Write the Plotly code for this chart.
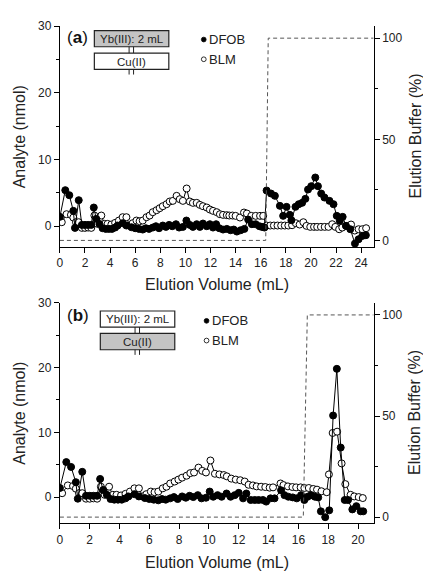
import plotly.graph_objects as go

# ---------------- data ----------------
# Panel (a): DFOB (filled) and BLM (open), analyte in nmol vs elution volume in mL
dfob_a_x = [0.0, 0.43, 0.75, 1.07, 1.2, 1.5, 1.75, 2.0, 2.25, 2.5, 2.7, 2.9, 3.15, 3.4, 3.65, 3.9,
            4.15, 4.4, 4.6, 5.0, 5.3, 5.7, 6.0, 6.3, 6.6, 6.85, 7.1, 7.4, 7.65, 7.9, 8.2, 8.45,
            8.7, 8.95, 9.25, 9.5, 9.8, 10.08, 10.35, 10.6, 10.9, 11.15, 11.4, 11.7, 11.95, 12.2,
            12.45, 12.7, 13.0, 13.3, 13.6, 13.85, 14.1, 14.4, 14.7, 15.0, 15.3, 15.6, 15.9, 16.1,
            16.3, 16.47, 16.82, 17.13, 17.53, 17.79, 18.06, 18.32, 18.45, 18.77, 19.03, 19.3,
            19.56, 19.77, 20.03, 20.35, 20.56, 20.82, 21.08, 21.48, 21.8, 22.06, 22.3, 22.53,
            22.8, 23.14, 23.51, 23.8, 24.1, 24.38]
dfob_a_y = [1.4, 5.4, 4.65, 2.3, -0.25, 3.9, 0.2, 0.2, 0.2, 0.2, 2.8, 1.1, 0.35, -0.3, -0.4, -0.4,
            -0.4, -0.2, 0.1, 0.45, 0.1, -0.15, -0.3, -0.4, -0.5, -0.3, -0.4, -0.2, 0.0, -0.3, 0.1, -0.1,
            0.2, 0.0, 0.3, -0.2, -0.1, 0.85, 0.2, -0.1, 0.3, -0.1, 0.4, 0.0, 0.3, -0.2,
            0.3, -0.3, -0.5, -0.4, -0.6, -0.5, -0.8, -0.6, -0.4, 1.0, 0.3, 0.3, 0.0, -0.1,
            -0.2, 5.35, 4.9, 4.55, 3.05, 1.55, 2.9, 1.7, 0.9, 2.9, 3.3, 3.5,
            4.1, 5.5, 6.0, 7.3, 6.0, 4.9, 4.3, 3.8, 3.3, 1.55, 0.8, 1.4,
            0.05, -0.45, -2.6, -1.95, -1.45, -1.35]

blm_a_x = [0.15, 0.53, 0.88, 1.07, 1.28, 1.5, 1.75, 2.0, 2.25, 2.5, 2.75, 3.0, 3.3, 3.55, 3.8, 4.1,
           4.4, 4.7, 5.0, 5.3, 5.55, 5.8, 6.1, 6.35, 6.6, 6.9, 7.15, 7.4, 7.7, 7.95, 8.2, 8.5,
           8.75, 9.0, 9.3, 9.55, 9.8, 10.1, 10.35, 10.6, 10.9, 11.15, 11.4, 11.7, 11.95, 12.2,
           12.5, 12.75, 13.0, 13.3, 13.5, 13.75, 14.0, 14.35, 14.67, 14.9, 15.25, 15.6, 15.95,
           16.2, 16.47, 16.76, 17.05, 17.34, 17.63, 17.92, 18.2, 18.5, 18.8, 19.1, 19.4, 19.65,
           19.95, 20.25, 20.5, 20.8, 21.1, 21.4, 21.7, 21.95, 22.25, 22.5, 22.8, 23.2, 23.5,
           23.8, 24.1, 24.4]
blm_a_y = [0.6, 1.8, 1.7, 1.3, 0.6, 0.6, -0.25, -0.25, -0.2, -0.25, 1.6, 0.35, 1.6, 0.35, 0.35, 0.25,
           0.5, 0.85, 1.35, 1.35, 0.1, 0.45, 0.85, 0.75, 0.85, 1.35, 1.6, 2.1, 2.4, 2.7, 3.0, 3.3,
           3.7, 3.8, 4.55, 4.05, 3.8, 5.65, 3.7, 3.5, 3.5, 3.2, 3.0, 2.8, 2.5, 2.3,
           2.1, 1.8, 1.7, 1.65, 1.6, 1.6, 1.55, 1.3, 2.05, 1.9, 1.55, 1.55, 1.55,
           1.55, 0.1, 0.1, 0.1, 0.1, 0.1, 0.1, 0.1, 0.15, 0.45, 0.25, 0.6, 0.05,
           -0.1, -0.1, -0.1, -0.1, -0.1, -0.1, 0.3, -0.1, -0.45, -0.2, 0.05, 0.25, -0.65,
           -0.45, -0.45, -0.3]

# Panel (b)
dfob_b_x = [0.0, 0.43, 0.75, 1.07, 1.2, 1.5, 1.75, 2.0, 2.25, 2.5, 2.7, 2.9, 3.15, 3.4, 3.65, 3.9,
            4.15, 4.4, 4.6, 5.0, 5.3, 5.7, 6.0, 6.3, 6.6, 6.85, 7.1, 7.4, 7.65, 7.9, 8.2, 8.45,
            8.7, 8.95, 9.25, 9.5, 9.8, 10.05, 10.29, 10.58, 10.85, 11.18, 11.45, 11.73, 12.0,
            12.29, 12.51, 12.8, 13.07, 13.33, 13.62, 13.84, 14.13, 14.4, 14.84, 15.07, 15.33,
            15.62, 15.89, 16.18, 16.4, 16.62, 16.84, 17.11, 17.33, 17.51, 17.8, 18.07, 18.33,
            18.58, 18.84, 19.11, 19.33, 19.62, 19.89, 20.18, 20.35]
dfob_b_y = [1.4, 5.4, 4.65, 2.3, -0.25, 3.9, 0.2, 0.2, 0.2, 0.2, 2.8, 1.1, 0.35, -0.3, -0.4, -0.4,
            -0.4, -0.2, 0.1, 0.45, 0.1, -0.15, -0.3, -0.4, -0.5, -0.3, -0.4, -0.2, 0.0, -0.3, 0.1, -0.1,
            0.2, 0.0, 0.3, -0.2, -0.1, 0.85, 0.05, 0.3, 0.05, 0.55, 0.05, 0.3, 0.65,
            -0.2, 0.55, -0.45, -0.45, -0.45, -0.45, -0.7, -0.2, -0.2, 1.05, 0.3, 0.05,
            -0.05, -0.2, 0.3, -0.45, 0.05, 0.3, 0.05, -0.05, -2.2, -3.1, -2.05, 12.6,
            19.8, 7.65, -0.45, -0.45, -1.9, -1.4, -2.2, -2.2]

blm_b_x = [0.15, 0.53, 0.88, 1.07, 1.28, 1.5, 1.75, 2.0, 2.25, 2.5, 2.75, 3.0, 3.3, 3.55, 3.8, 4.1,
           4.4, 4.7, 5.0, 5.3, 5.55, 5.8, 6.1, 6.35, 6.6, 6.9, 7.15, 7.4, 7.7, 7.95, 8.2, 8.5,
           8.75, 9.0, 9.3, 9.55, 9.8, 10.1, 10.4, 10.7, 11.0, 11.2, 11.5, 11.8, 12.1, 12.4,
           12.66, 12.95, 13.2, 13.5, 13.78, 14.07, 14.3, 14.8, 15.0, 15.3, 15.6, 15.85, 16.15,
           16.4, 16.7, 17.0, 17.25, 17.55, 17.9, 18.05, 18.3, 18.6, 18.9, 19.15, 19.5, 19.75,
           20.05, 20.32]
blm_b_y = [0.6, 1.8, 1.7, 1.3, 0.6, 0.6, -0.25, -0.25, -0.2, -0.25, 1.6, 0.35, 1.6, 0.35, 0.35, 0.25,
           0.5, 0.85, 1.35, 1.35, 0.1, 0.45, 0.85, 0.75, 0.85, 1.35, 1.6, 2.1, 2.4, 2.7, 3.0, 3.3,
           3.7, 3.8, 4.55, 4.05, 3.8, 5.65, 3.6, 3.5, 3.4, 3.2, 2.85, 2.7, 2.6, 2.4,
           1.9, 1.8, 1.65, 1.6, 1.55, 1.45, 1.5, 2.1, 1.85, 1.65, 1.55, 1.5, 1.5,
           1.4, 1.4, 1.25, 1.15, 0.9, 0.75, 3.5, 9.9, 10.1, 5.2, 2.0, 0.35, 0.1,
           0.0, -0.15]

# Elution buffer program (%)
buffer_a_x = [0, 16.4, 16.6, 25]
buffer_a_y = [0, 0, 100, 100]
buffer_b_x = [0, 16.33, 16.6, 21.05]
buffer_b_y = [0, 0, 100, 100]

x_ticks_a = list(range(0, 25, 2))
x_ticks_b = list(range(0, 21, 2))

# ---------------- figure ----------------
W, H = 423, 572
FONT = "Liberation Sans, Arial, sans-serif"


def px(x):
    return x / W


def py(y):
    return 1 - y / H


fig = go.Figure()

line_style = dict(color="black", width=1)
filled = dict(symbol="circle", size=7, color="black", line=dict(color="black", width=1))
hollow = dict(symbol="circle", size=7, color="white", line=dict(color="black", width=1))
dash_style = dict(color="#555555", width=1, dash="4px,3px")

for xa, ya, yb, bx, by, dx, dy, ox, oy in [
    ("x", "y", "y2", buffer_a_x, buffer_a_y, dfob_a_x, dfob_a_y, blm_a_x, blm_a_y),
    ("x2", "y3", "y4", buffer_b_x, buffer_b_y, dfob_b_x, dfob_b_y, blm_b_x, blm_b_y),
]:
    fig.add_trace(go.Scatter(x=bx, y=by, xaxis=xa, yaxis=yb, mode="lines",
                             line=dash_style, showlegend=False, hoverinfo="skip"))
    fig.add_trace(go.Scatter(x=ox, y=oy, xaxis=xa, yaxis=ya, mode="lines+markers",
                             line=line_style, marker=hollow, name="BLM", showlegend=False))
    fig.add_trace(go.Scatter(x=dx, y=dy, xaxis=xa, yaxis=ya, mode="lines+markers",
                             line=line_style, marker=filled, name="DFOB", showlegend=False))

x_dom = [px(57.3), px(373.3)]
a_dom = [py(243.3), py(19.3)]
b_dom = [py(523.3), py(300.0)]

axis_common = dict(showline=True, linecolor="black", linewidth=1.3, ticks="outside",
                   ticklen=5, tickwidth=1.2, tickcolor="black", showgrid=False,
                   zeroline=False, tickfont=dict(family=FONT, size=12, color="#222"))
minor_left = dict(ticks="outside", ticklen=3, tickwidth=1.2, tickcolor="black",
                  tickvals=[5, 15, 25], showgrid=False)
minor_right = dict(ticks="outside", ticklen=3, tickwidth=1.2, tickcolor="black",
                   tickvals=[25, 75], showgrid=False)

fig.update_layout(
    width=W, height=H, margin=dict(l=0, r=0, t=0, b=0),
    paper_bgcolor="white", plot_bgcolor="white", showlegend=False,
    xaxis=dict(domain=x_dom, anchor="y", range=[0, 25], tickvals=x_ticks_a, **axis_common),
    yaxis=dict(domain=a_dom, anchor="x", range=[-3.1, 30], tickvals=[0, 10, 20, 30],
               minor=minor_left, **axis_common),
    yaxis2=dict(overlaying="y", anchor="x", side="right", range=[-3.2, 106],
                tickvals=[0, 50, 100], minor=minor_right, **axis_common),
    xaxis2=dict(domain=x_dom, anchor="y3", range=[0, 21.05], tickvals=x_ticks_b, **axis_common),
    yaxis3=dict(domain=b_dom, anchor="x2", range=[-4, 30], tickvals=[0, 10, 20, 30],
                minor=minor_left, **axis_common),
    yaxis4=dict(overlaying="y3", anchor="x2", side="right", range=[-2.9, 106],
                tickvals=[0, 50, 100], minor=minor_right, **axis_common),
)

ann = []
shapes = []


def text(x, y, s, size, xanchor="center", angle=0, color="#222"):
    ann.append(dict(x=px(x), y=py(y), xref="paper", yref="paper", text=s, showarrow=False,
                    xanchor=xanchor, yanchor="middle", textangle=angle, borderpad=0,
                    font=dict(family=FONT, size=size, color=color)))


def rect(x0, y0, x1, y1, fill):
    shapes.append(dict(type="rect", xref="paper", yref="paper", x0=px(x0), x1=px(x1),
                       y0=py(y1), y1=py(y0), fillcolor=fill,
                       line=dict(color="#222", width=1.2)))


def vline(x, y0, y1):
    shapes.append(dict(type="line", xref="paper", yref="paper", x0=px(x), x1=px(x),
                       y0=py(y0), y1=py(y1), line=dict(color="#222", width=1)))


def dot(cx, cy, fill):
    r = 2.4
    shapes.append(dict(type="circle", xref="paper", yref="paper",
                       x0=px(cx - r), x1=px(cx + r), y0=py(cy + r), y1=py(cy - r),
                       fillcolor=fill, line=dict(color="black", width=0.8)))


for top, lab, box_x, gray_top in [(0, "a", 92, True), (281, "b", 98, False)]:
    # axis titles
    text(215.3, 281 if top == 0 else 563, "Elution Volume (mL)", 16)
    mid = (19.3 + 243.3) / 2 if top == 0 else (300 + 523.3) / 2
    text(17, mid, "Analyte (nmol)", 16, angle=-90)
    text(415, mid, "Elution Buffer (%)", 16, angle=-90)
    # panel label
    ly = 31 if top == 0 else 313
    text(63, ly, "(<b>%s</b>)" % lab, 17, xanchor="left", color="#111")
    # column schematic
    b1y0 = 24 if top == 0 else 308.3
    rect(box_x, b1y0, box_x + 75, b1y0 + 16.3, "#c4c4c4" if gray_top else "white")
    rect(box_x, b1y0 + 22.7, box_x + 75, b1y0 + 39.3, "white" if gray_top else "#c4c4c4")
    text(box_x + 37.5, b1y0 + 8.3, "Yb(III): 2 mL", 11.5)
    text(box_x + 37.5, b1y0 + 31.3, "Cu(II)", 11.5)
    cx = box_x + 35
    for dxo in (0, 4.5):
        vline(cx + dxo, b1y0 + 16.3, b1y0 + 22.7)
        vline(cx + dxo, b1y0 + 39.3, b1y0 + 44.5)
    # legend
    lx = 202.2 if top == 0 else 205
    l1 = 33 if top == 0 else 318.3
    dot(lx, l1, "black")
    text(lx + 4.5, l1, "DFOB", 13, xanchor="left")
    dot(lx, l1 + 20, "white")
    text(lx + 4.5, l1 + 20, "BLM", 13, xanchor="left")

fig.update_layout(annotations=ann, shapes=shapes)
fig.write_html("out.html")
